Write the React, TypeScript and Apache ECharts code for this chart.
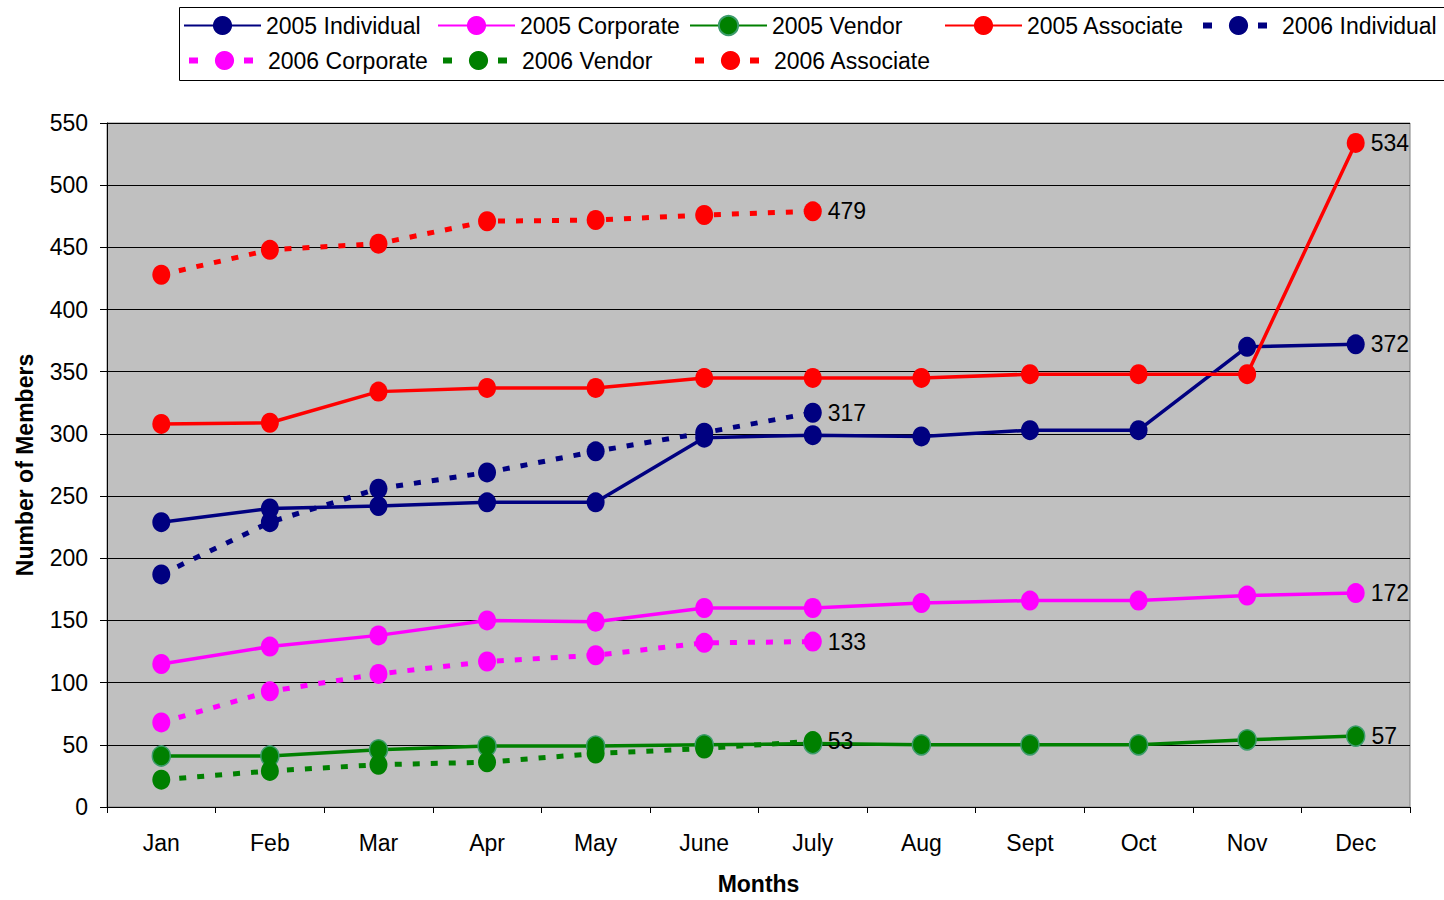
import React, { useEffect, useRef } from "react";
import * as echarts from "echarts";

const months = ["Jan", "Feb", "Mar", "Apr", "May", "June", "July", "Aug", "Sept", "Oct", "Nov", "Dec"];

const individual2005 = [229, 240, 242, 245, 245, 297, 299, 298, 303, 303, 370, 372];
const corporate2005 = [115, 129, 138, 150, 149, 160, 160, 164, 166, 166, 170, 172];
const vendor2005 = [41, 41, 46, 49, 49, 50, 51, 50, 50, 50, 54, 57];
const associate2005 = [308, 309, 334, 337, 337, 345, 345, 345, 348, 348, 348, 534];
const individual2006 = [187, 229, 256, 269, 286, 301, 317];
const corporate2006 = [68, 93, 107, 117, 122, 132, 133];
const vendor2006 = [22, 29, 34, 36, 43, 47, 53];
const associate2006 = [428, 448, 453, 471, 472, 476, 479];

const FONT = "'Liberation Sans', Arial, sans-serif";
const FS = 23;

const seriesDefs = [
  { name: "2005 Individual", data: individual2005, color: "#000080", dashed: false },
  { name: "2005 Corporate", data: corporate2005, color: "#FF00FF", dashed: false },
  { name: "2005 Vendor", data: vendor2005, color: "#008000", dashed: false, border: "#3C9C6C" },
  { name: "2005 Associate", data: associate2005, color: "#FF0000", dashed: false },
  { name: "2006 Individual", data: individual2006, color: "#000080", dashed: true },
  { name: "2006 Corporate", data: corporate2006, color: "#FF00FF", dashed: true },
  { name: "2006 Vendor", data: vendor2006, color: "#008000", dashed: true },
  { name: "2006 Associate", data: associate2006, color: "#FF0000", dashed: true },
];

const legendPos = [
  [183, 14], [437, 14], [689, 14], [944, 14], [1197, 14],
  [183, 49], [437, 49], [689, 49],
];

export default function App() {
  const ref = useRef<HTMLDivElement>(null);
  useEffect(() => {
    if (!ref.current) return;
    const chart = echarts.init(ref.current, null, { renderer: "svg" });
    const series = seriesDefs.map((s) => ({
      name: s.name,
      type: "line",
      data: s.data.map((v, i) =>
        i === s.data.length - 1
          ? { value: v, label: { show: true } }
          : v
      ),
      symbol: "circle",
      symbolSize: [18, 20],
      showAllSymbol: true,
      color: s.color,
      lineStyle: {
        color: s.color,
        width: s.dashed ? 5 : 3.5,
        type: s.dashed ? [7, 11] : "solid",
        cap: "butt",
      },
      itemStyle: {
        color: s.color,
        borderColor: s.border || s.color,
        borderWidth: s.border ? 1.5 : 0,
      },
      label: {
        show: false,
        position: "right",
        distance: 6,
        color: "#000",
        fontSize: FS,
        fontFamily: FONT,
      },
      emphasis: { disabled: true },
    }));
    const legends = seriesDefs.map((s, i) => {
      const lg: any = {
        data: [s.name],
        left: legendPos[i][0],
        top: legendPos[i][1],
        itemWidth: 77,
        itemHeight: 24,
        itemGap: 0,
        padding: 0,
        textStyle: { color: "#000", fontSize: FS, fontFamily: FONT },
      };
      if (s.dashed) {
        lg.lineStyle = { color: s.color, width: 6, type: [9, 46], dashOffset: -3 };
      }
      return lg;
    });
    chart.setOption({
      animation: false,
      backgroundColor: "#fff",
      legend: legends,
      graphic: [
        {
          type: "rect",
          shape: { x: 179.5, y: 7.5, width: 1290, height: 73 },
          style: { fill: "none", stroke: "#000", lineWidth: 1 },
          silent: true,
        },
      ],
      grid: {
        left: 107,
        right: 34,
        top: 123,
        bottom: 89,
        show: true,
        backgroundColor: "#C0C0C0",
        borderColor: "#808080",
        borderWidth: 1,
      },
      xAxis: {
        type: "category",
        data: months,
        boundaryGap: true,
        name: "Months",
        nameLocation: "middle",
        nameGap: 65,
        nameTextStyle: { fontSize: FS, fontWeight: "bold", color: "#000", fontFamily: FONT },
        axisLine: { lineStyle: { color: "#000", width: 1 } },
        axisTick: { show: true, length: 6, lineStyle: { color: "#000" } },
        axisLabel: { color: "#000", fontSize: FS, fontFamily: FONT, margin: 24 },
        splitLine: { show: false },
      },
      yAxis: {
        type: "value",
        min: 0,
        max: 550,
        interval: 50,
        name: "Number of Members",
        nameLocation: "middle",
        nameGap: 71,
        nameRotate: 90,
        nameTextStyle: { fontSize: FS, fontWeight: "bold", color: "#000", fontFamily: FONT },
        axisLine: { show: true, lineStyle: { color: "#000", width: 1 } },
        axisTick: { show: true, length: 7, lineStyle: { color: "#000" } },
        axisLabel: { color: "#000", fontSize: FS, fontFamily: FONT, margin: 19 },
        splitLine: { show: true, lineStyle: { color: "#000", width: 1 } },
      },
      series,
    });
    return () => chart.dispose();
  }, []);
  return <div ref={ref} style={{ width: 1444, height: 900, position: "absolute", left: 0, top: 0 }} />;
}
